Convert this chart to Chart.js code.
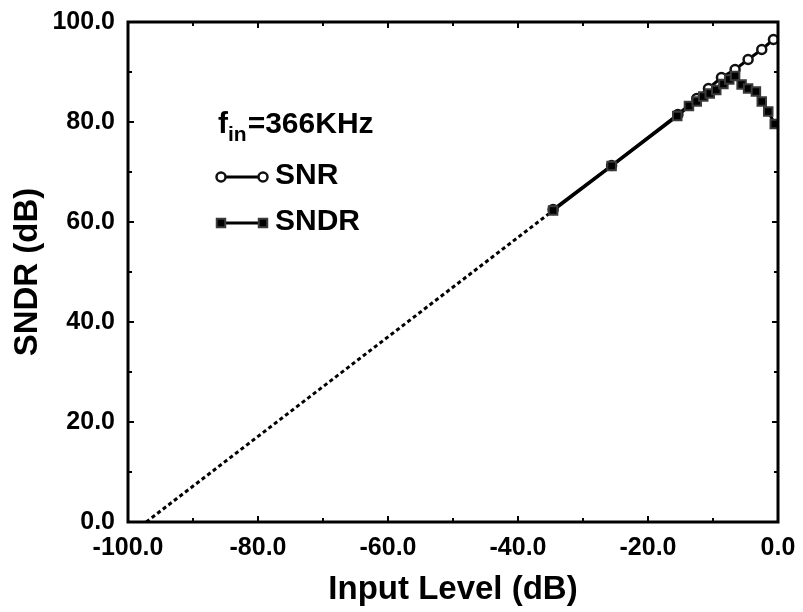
<!DOCTYPE html>
<html>
<head>
<meta charset="utf-8">
<title>SNDR vs Input Level</title>
<script src="https://cdn.jsdelivr.net/npm/chart.js@4.4.0/dist/chart.umd.min.js"></script>
<style>
    html, body { margin: 0; padding: 0; background: #fff; }
</style>
</head>
<body>
<canvas id="sndrChart" width="803" height="612"></canvas>
<script>
// --- Datos ---
const snrX  = [-34.6, -25.6, -15.4, -12.5, -10.7, -8.7, -6.6, -4.6, -2.5, -0.7];
const snrY  = [62.5, 71.3, 81.5, 84.7, 86.7, 88.9, 90.5, 92.5, 94.5, 96.5];

const sndrX = [-34.6, -25.6, -15.5, -13.7, -12.5, -11.5, -10.5, -9.5, -8.4, -7.5, -6.6, -5.6, -4.6, -3.4, -2.5, -1.5, -0.5];
const sndrY = [62.3, 71.2, 81.2, 83.2, 84.1, 85.1, 85.7, 86.4, 87.6, 88.5, 89.2, 87.5, 86.7, 86.1, 84.1, 82.1, 79.6];

// extrapolación (línea punteada) hasta el cruce con 0 dB
const extraX = [-97.2, -34.6];
const extraY = [0, 62.3];

const xTicks = [-100, -80, -60, -40, -20, 0];
const yTicks = [0, 20, 40, 60, 80, 100];

const legendTitle = 'f';
const legendSub = 'in';
const legendFreq = '=366KHz';
const snrLabel = 'SNR';
const sndrLabel = 'SNDR';

const FUENTE = '"Liberation Sans", Arial, Helvetica, sans-serif';

const toPoints = (xs, ys) => xs.map((x, i) => ({ x: x, y: ys[i] }));

// marco con ticks hacia adentro en los cuatro lados
const marcoPlugin = {
    id: 'marco',
    afterDatasetsDraw(chart) {
        const { ctx, chartArea: a, scales: { x, y } } = chart;
        ctx.save();
        ctx.strokeStyle = '#000';
        ctx.lineWidth = 2;
        for (let v = -100; v <= 0; v += 10) {
            const px = x.getPixelForValue(v);
            const len = v % 20 === 0 ? 6 : 4;
            ctx.beginPath();
            ctx.moveTo(px, a.bottom); ctx.lineTo(px, a.bottom - len);
            ctx.moveTo(px, a.top); ctx.lineTo(px, a.top + len);
            ctx.stroke();
        }
        for (let v = 0; v <= 100; v += 10) {
            const py = y.getPixelForValue(v);
            const len = v % 20 === 0 ? 6 : 4;
            ctx.beginPath();
            ctx.moveTo(a.left, py); ctx.lineTo(a.left + len, py);
            ctx.moveTo(a.right, py); ctx.lineTo(a.right - len, py);
            ctx.stroke();
        }
        ctx.lineWidth = 3;
        ctx.strokeRect(a.left, a.top, a.right - a.left, a.bottom - a.top);
        ctx.restore();
    }
};

// leyenda dentro del área del gráfico
const leyendaPlugin = {
    id: 'leyenda',
    afterDraw(chart) {
        const { ctx } = chart;
        const helpers = Chart.helpers;
        ctx.save();
        ctx.fillStyle = '#000';
        ctx.textBaseline = 'alphabetic';
        ctx.textAlign = 'left';

        // f_in=366KHz
        let xPos = 218;
        ctx.font = 'bold 30px ' + FUENTE;
        ctx.fillText(legendTitle, xPos, 133);
        xPos += ctx.measureText(legendTitle).width;
        ctx.font = 'bold 21px ' + FUENTE;
        ctx.fillText(legendSub, xPos, 141);
        xPos += ctx.measureText(legendSub).width + 1;
        ctx.font = 'bold 30px ' + FUENTE;
        ctx.fillText(legendFreq, xPos, 133);

        const filas = [
            { ds: chart.data.datasets[1], y: 177, text: snrLabel },
            { ds: chart.data.datasets[0], y: 223, text: sndrLabel }
        ];
        filas.forEach(f => {
            ctx.strokeStyle = '#000';
            ctx.lineWidth = 3;
            ctx.beginPath();
            ctx.moveTo(221, f.y); ctx.lineTo(263, f.y);
            ctx.stroke();
            [221, 263].forEach(px => {
                ctx.fillStyle = f.ds.pointBackgroundColor;
                ctx.strokeStyle = f.ds.pointBorderColor;
                ctx.lineWidth = f.ds.pointBorderWidth;
                helpers.drawPoint(ctx, {
                    pointStyle: f.ds.pointStyle,
                    radius: f.ds.pointRadius,
                    rotation: 0,
                    borderWidth: f.ds.pointBorderWidth
                }, px, f.y);
            });
            ctx.fillStyle = '#000';
            ctx.font = 'bold 30px ' + FUENTE;
            ctx.textBaseline = 'middle';
            ctx.fillText(f.text, 275, f.y - 1);
        });
        ctx.restore();
    }
};

const ctxSndr = document.getElementById('sndrChart').getContext('2d');

new Chart(ctxSndr, {
    type: 'scatter',
    data: {
        datasets: [
            {
                label: sndrLabel,
                data: toPoints(sndrX, sndrY),
                showLine: true,
                borderColor: '#000',
                borderWidth: 3,
                pointStyle: 'rect',
                pointRadius: 6,
                pointBorderWidth: 2,
                pointBackgroundColor: '#000',
                pointBorderColor: '#3a3a3a'
            },
            {
                label: snrLabel,
                data: toPoints(snrX, snrY),
                showLine: true,
                borderColor: '#000',
                borderWidth: 3,
                pointStyle: 'circle',
                pointRadius: 4.5,
                pointBorderWidth: 2.5,
                pointBackgroundColor: '#fff',
                pointBorderColor: '#111'
            },
            {
                label: 'extrapolación',
                data: toPoints(extraX, extraY),
                showLine: true,
                borderColor: '#000',
                borderWidth: 3,
                borderDash: [4, 3],
                pointRadius: 0
            }
        ]
    },
    options: {
        responsive: false,
        animation: false,
        layout: { padding: { top: 22, right: 25, left: 0, bottom: 0 } },
        plugins: {
            legend: { display: false },
            tooltip: { enabled: false }
        },
        scales: {
            x: {
                type: 'linear',
                min: -100,
                max: 0,
                afterBuildTicks: s => { s.ticks = xTicks.map(v => ({ value: v })); },
                afterFit: s => { s.height = 90; s.paddingLeft = 0; s.paddingRight = 0; },
                grid: { display: false, drawTicks: false },
                border: { display: false },
                ticks: {
                    color: '#000',
                    padding: 11,
                    maxRotation: 0,
                    font: { family: FUENTE, size: 25, weight: 'bold' },
                    callback: v => v.toFixed(1)
                },
                title: {
                    display: true,
                    text: 'Input Level (dB)',
                    color: '#000',
                    padding: { top: 0, bottom: 2 },
                    font: { family: FUENTE, size: 33, weight: 'bold' }
                }
            },
            y: {
                type: 'linear',
                min: 0,
                max: 100,
                afterBuildTicks: s => { s.ticks = yTicks.map(v => ({ value: v })); },
                afterFit: s => { s.width = 128; s.paddingTop = 0; s.paddingBottom = 0; },
                grid: { display: false, drawTicks: false },
                border: { display: false },
                ticks: {
                    color: '#000',
                    padding: 13,
                    font: { family: FUENTE, size: 25, weight: 'bold' },
                    callback: v => v.toFixed(1)
                },
                title: {
                    display: true,
                    text: 'SNDR (dB)',
                    color: '#000',
                    padding: { top: 8, bottom: 0 },
                    font: { family: FUENTE, size: 33, weight: 'bold' }
                }
            }
        }
    },
    plugins: [marcoPlugin, leyendaPlugin]
});
</script>
</body>
</html>
